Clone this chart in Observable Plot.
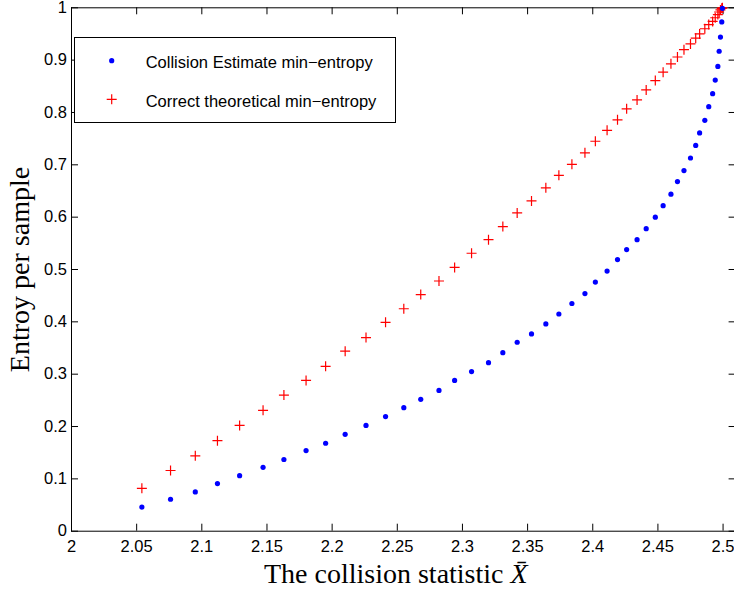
<!DOCTYPE html>
<html>
<head>
<meta charset="utf-8">
<script src="https://cdn.jsdelivr.net/npm/d3@7"></script>
<script src="https://cdn.jsdelivr.net/npm/@observablehq/plot@0.6"></script>
<style>
  html, body { margin: 0; padding: 0; background: white; overflow: hidden; }
  #wrap { position: relative; width: 734px; height: 591px; overflow: hidden; }
  #legend { position: absolute; left: 74px; top: 37px; }
</style>
</head>
<body>
<div id="wrap"></div>
<script>
// ---- data ----
const collisionStat = [
  2.054, 2.076, 2.095, 2.112, 2.129, 2.147, 2.163, 2.180, 2.195, 2.210,
  2.226, 2.241, 2.255, 2.268, 2.282, 2.294, 2.307, 2.320, 2.331, 2.342,
  2.353, 2.364, 2.374, 2.384, 2.394, 2.402, 2.411, 2.419, 2.426, 2.434,
  2.441, 2.448, 2.454, 2.460, 2.465, 2.470, 2.475, 2.479, 2.482, 2.486,
  2.489, 2.492, 2.494, 2.496, 2.497, 2.498, 2.499, 2.4995
];
const collisionEstimate = [
  0.046, 0.061, 0.075, 0.091, 0.106, 0.122, 0.137, 0.154, 0.168, 0.185,
  0.202, 0.219, 0.236, 0.252, 0.269, 0.288, 0.305, 0.322, 0.341, 0.361,
  0.377, 0.396, 0.415, 0.435, 0.454, 0.476, 0.497, 0.519, 0.538, 0.557,
  0.578, 0.600, 0.622, 0.644, 0.668, 0.689, 0.713, 0.737, 0.761, 0.785,
  0.811, 0.836, 0.862, 0.888, 0.917, 0.944, 0.973, 0.999
];
const theoretical = [
  0.082, 0.116, 0.144, 0.173, 0.202, 0.231, 0.260, 0.288, 0.315, 0.344,
  0.370, 0.399, 0.425, 0.452, 0.478, 0.504, 0.531, 0.557, 0.582, 0.608,
  0.631, 0.656, 0.680, 0.701, 0.723, 0.745, 0.766, 0.786, 0.807, 0.824,
  0.843, 0.861, 0.877, 0.893, 0.906, 0.920, 0.931, 0.942, 0.950, 0.960,
  0.968, 0.974, 0.981, 0.987, 0.992, 0.996, 0.999, 1.000
];
const xTicks = [2, 2.05, 2.1, 2.15, 2.2, 2.25, 2.3, 2.35, 2.4, 2.45, 2.5];
const xTickLabels = ["2", "2.05", "2.1", "2.15", "2.2", "2.25", "2.3", "2.35", "2.4", "2.45", "2.5"];
const yTicks = [0, 0.1, 0.2, 0.3, 0.4, 0.5, 0.6, 0.7, 0.8, 0.9, 1];
const yTickLabels = ["0", "0.1", "0.2", "0.3", "0.4", "0.5", "0.6", "0.7", "0.8", "0.9", "1"];
const seriesNames = ["Collision Estimate min\u2212entropy", "Correct theoretical min\u2212entropy"];
const xTitle = "The collision statistic X\u0304";
const yTitle = "Entroy per sample";

// ---- build table ----
const rows = collisionStat.map((x, i) => ({x, est: collisionEstimate[i], theo: theoretical[i]}));
const xLabelMap = new Map(xTicks.map((t, i) => [t, xTickLabels[i]]));
const yLabelMap = new Map(yTicks.map((t, i) => [t, yTickLabels[i]]));

const W = 734, H = 591;
const mL = 71, mT = 7.3, mB = 60.3, mR = -1.6;
const innerH = H - mT - mB, innerW = W - mL - mR;
const TL = 7; // tick length (inward)

const plusSymbol = {
  draw(ctx, size) {
    const r = Math.sqrt(size / Math.PI);
    ctx.moveTo(-r, 0); ctx.lineTo(r, 0);
    ctx.moveTo(0, -r); ctx.lineTo(0, r);
  }
};

const chart = Plot.plot({
  width: W, height: H,
  marginLeft: mL, marginRight: mR, marginTop: mT, marginBottom: mB,
  x: {domain: [2, 2.51]},
  y: {domain: [0, 1]},
  style: {fontFamily: "'Liberation Sans', Arial, sans-serif", fontSize: "16.5px", color: "black", background: "white", overflow: "hidden"},
  marks: [
    Plot.frame({stroke: "black", strokeWidth: 1}),
    // inward ticks on all four sides
    Plot.tickX(xTicks, {x: d => d, insetTop: innerH - TL, stroke: "black"}),
    Plot.tickX(xTicks, {x: d => d, insetBottom: innerH - TL, stroke: "black"}),
    Plot.tickY(yTicks, {y: d => d, insetRight: innerW - TL, stroke: "black"}),
    Plot.tickY(yTicks, {y: d => d, insetLeft: innerW - TL, stroke: "black"}),
    Plot.axisX({ticks: xTicks, tickSize: 0, tickPadding: 9, tickFormat: d => xLabelMap.get(d), label: null, fontSize: 16.5}),
    Plot.axisY({ticks: yTicks, tickSize: 0, tickPadding: 4.5, tickFormat: d => yLabelMap.get(d), label: null, fontSize: 16.5}),
    Plot.dot(rows, {x: "x", y: "theo", symbol: plusSymbol, r: 5, stroke: "#ff0000", fill: "none", strokeWidth: 1.2}),
    Plot.dot(rows, {x: "x", y: "est", r: 2.6, fill: "#0000ff", stroke: "none"}),
    Plot.text([xTitle], {frameAnchor: "bottom", dx: -8, dy: 51.5, text: d => d, fontFamily: "'Liberation Serif', 'Times New Roman', serif", fontSize: 28, textAnchor: "middle", fill: "black"}),
    Plot.text([yTitle], {frameAnchor: "left", dx: -51, text: d => d, rotate: -90, fontFamily: "'Liberation Serif', 'Times New Roman', serif", fontSize: 28, textAnchor: "middle", fill: "black"})
  ]
});

document.getElementById("wrap").appendChild(chart);

// italic X with bar in x-axis title
d3.select(chart).selectAll("text").each(function() {
  const t = this.textContent;
  if (t === xTitle) {
    const sel = d3.select(this);
    sel.text(null);
    sel.append("tspan").text("The collision statistic ");
    sel.append("tspan").attr("font-style", "italic").text("X\u0304");
  }
});

// legend (overlay)
const leg = d3.select("#wrap").append("svg")
  .attr("id", "legend").attr("width", 323).attr("height", 88)
  .style("font-family", "'Liberation Sans', Arial, sans-serif");
leg.append("rect").attr("x", 0.5).attr("y", 0.5).attr("width", 321).attr("height", 85)
  .attr("fill", "white").attr("stroke", "black").attr("stroke-width", 1);
leg.append("circle").attr("cx", 37.7).attr("cy", 23.7).attr("r", 2.6).attr("fill", "#0000ff");
leg.append("path").attr("d", "M32.7,62.3H42.7M37.7,57.3V67.3").attr("stroke", "#ff0000").attr("stroke-width", 1.2).attr("fill", "none");
leg.append("text").attr("x", 71.7).attr("y", 31).attr("font-size", 16.5).text(seriesNames[0]);
leg.append("text").attr("x", 71.7).attr("y", 70).attr("font-size", 16.5).text(seriesNames[1]);
</script>
</body>
</html>
